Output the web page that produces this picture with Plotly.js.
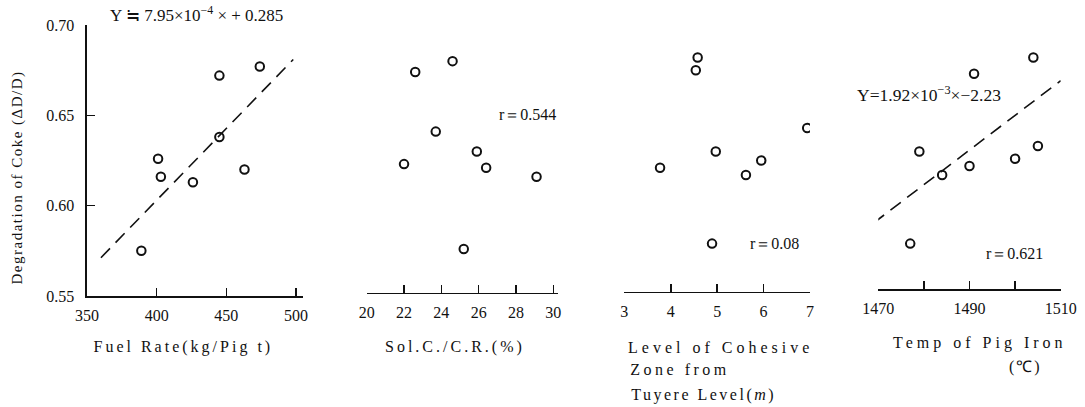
<!DOCTYPE html>
<html>
<head>
<meta charset="utf-8">
<script src="https://cdn.plot.ly/plotly-3.0.1.min.js"></script>
<style>
  html, body { margin: 0; padding: 0; background: #fff; }
  #chart { width: 1085px; height: 407px; }
  /* spaced-out lettering for the axis captions */
  .annotation[data-index="4"] text { letter-spacing: 1.5px; }
  .annotation[data-index="5"] text { letter-spacing: 3px; }
  .annotation[data-index="6"] text { letter-spacing: 3px; }
  .annotation[data-index="7"] text { letter-spacing: 4px; }
  .annotation[data-index="8"] text { letter-spacing: 3.5px; }
  .annotation[data-index="9"] text { letter-spacing: 2.5px; }
  .annotation[data-index="10"] text { letter-spacing: 4px; }
  .annotation[data-index="11"] text { letter-spacing: 2px; }
</style>
</head>
<body>
<div id="chart"></div>
<script>
// Degradation of coke (ΔD/D) against four operating factors
const degFuel  = [0.575, 0.626, 0.616, 0.613, 0.672, 0.638, 0.620, 0.677];
const fuelRate = [389, 401, 403, 426, 445, 445, 463, 474];

const degSol   = [0.674, 0.680, 0.641, 0.623, 0.630, 0.621, 0.616, 0.576];
const solCR    = [22.6, 24.6, 23.7, 22.0, 25.9, 26.4, 29.1, 25.2];

const degZone  = [0.682, 0.675, 0.643, 0.630, 0.621, 0.625, 0.617, 0.579];
const zoneLvl  = [4.58, 4.54, 6.94, 4.97, 3.77, 5.95, 5.62, 4.89];

const degTemp  = [0.682, 0.673, 0.630, 0.617, 0.622, 0.626, 0.633, 0.579];
const pigTemp  = [1504, 1491, 1479, 1484, 1490, 1500, 1505, 1477];

// regression lines: Y = slope * x + intercept over the fitted span
const fuelFit = { slope: 7.95e-4, intercept: 0.285, span: [360, 498] };
const tempFit = { slope: 1.92e-3, intercept: -2.23, span: [1469, 1510] };

const fuelTicks = [350, 400, 450, 500];
const solTicks  = [20, 22, 24, 26, 28, 30];
const zoneTicks = [3, 4, 5, 6, 7];
const tempTicks = [1470, 1480, 1490, 1500, 1510];
const tempTickText = ['1470', ' ', '1490', ' ', '1510'];
const degTicks  = [0.55, 0.60, 0.65, 0.70];

const W = 1085, H = 407;
const px = v => v / W;
const py = v => (H - v) / H;

const FONT = 'Liberation Serif, Times New Roman, serif';
const ink = '#111';

function fitLine(fit, xa) {
  const xs = fit.span;
  return {
    x: xs, y: xs.map(v => fit.slope * v + fit.intercept),
    xaxis: xa, yaxis: 'y', mode: 'lines', hoverinfo: 'skip',
    line: { color: ink, width: 1.6, dash: '13px,8px' }
  };
}
function pts(x, y, xa) {
  return {
    x: x, y: y, xaxis: xa, yaxis: 'y', mode: 'markers',
    marker: { symbol: 'circle-open', size: 8.5, color: ink, line: { width: 2, color: ink } }
  };
}

const traces = [
  fitLine(fuelFit, 'x'),
  pts(fuelRate, degFuel, 'x'),
  pts(solCR, degSol, 'x2'),
  pts(zoneLvl, degZone, 'x3'),
  fitLine(tempFit, 'x4'),
  pts(pigTemp, degTemp, 'x4')
];

const tickFont = { family: FONT, size: 16, color: ink };
function xAxis(domain, range, vals, text, pos) {
  const ax = {
    domain: domain, range: range, tickvals: vals,
    showline: true, linecolor: ink, linewidth: 1.6,
    ticks: 'inside', ticklen: 8, tickwidth: 1.6, tickcolor: ink,
    ticklabelstandoff: 4,
    showgrid: false, zeroline: false, tickfont: tickFont, fixedrange: true
  };
  if (text) ax.ticktext = text;
  if (pos === undefined) { ax.anchor = 'y'; }
  else { ax.anchor = 'free'; ax.position = pos; }
  return ax;
}

const capFont = { family: FONT, size: 16, color: ink };
const noteFont = { family: FONT, size: 16, color: ink };
const eqFont = { family: FONT, size: 17, color: ink };
function note(text, x, y, opts) {
  return Object.assign({
    text: text, xref: 'paper', yref: 'paper', x: px(x), y: py(y),
    xanchor: 'center', yanchor: 'middle', showarrow: false, font: noteFont
  }, opts || {});
}

const annotations = [
  note('Y ≒ 7.95×10<sup>−4</sup> × + 0.285', 196, 14, { font: eqFont }),   // 0
  note('r＝0.544', 527, 115),                                                // 1
  note('r＝0.08', 774, 243),                                                 // 2
  note('Y=1.92×10<sup>−3</sup>×−2.23', 929, 94, { font: { family: FONT, size: 17.5, color: ink } }), // 3
  note('Degradation of Coke (ΔD/D)', 18, 178, { textangle: -90, font: { family: FONT, size: 15, color: ink } }), // 4
  note('Fuel Rate(kg/Pig t)', 183, 347, { font: capFont }),                 // 5
  note('Sol.C./C.R.(%)', 455, 347, { font: capFont }),                      // 6
  note('Level of Cohesive', 720, 347, { font: capFont }),                   // 7
  note('Zone from', 680, 369, { font: capFont }),                           // 8
  note('Tuyere Level(<i>m</i>)', 703, 395, { font: capFont }),              // 9
  note('Temp of Pig Iron', 980, 343, { font: capFont }),                    // 10
  note('(℃)', 1025, 367, { font: capFont }),                                // 11
  note('r＝0.621', 1014, 253)                                                // 12
];

const layout = {
  width: W, height: H,
  margin: { l: 0, r: 0, t: 0, b: 0 },
  paper_bgcolor: '#fff', plot_bgcolor: '#fff',
  showlegend: false,
  font: { family: FONT, color: ink },
  xaxis:  xAxis([px(87), px(303)], [350, 505], fuelTicks),
  xaxis2: xAxis([px(366.7), px(558)], [20, 30.25], solTicks, null, py(292.7)),
  xaxis3: xAxis([px(624.3), px(810)], [3, 7], zoneTicks, null, py(291.7)),
  xaxis4: xAxis([px(878.3), px(1060.7)], [1470, 1510], tempTicks, tempTickText, py(289)),
  yaxis: {
    domain: [py(296), py(25)], range: [0.55, 0.70], anchor: 'x',
    tickvals: degTicks, tickformat: '.2f',
    showline: true, linecolor: ink, linewidth: 1.6,
    ticks: 'inside', ticklen: 8, tickwidth: 1.6, tickcolor: ink,
    ticklabelstandoff: 8,
    showgrid: false, zeroline: false, tickfont: tickFont, fixedrange: true
  },
  annotations: annotations
};

Plotly.newPlot('chart', traces, layout, { displayModeBar: false, staticPlot: true });
</script>
</body>
</html>
